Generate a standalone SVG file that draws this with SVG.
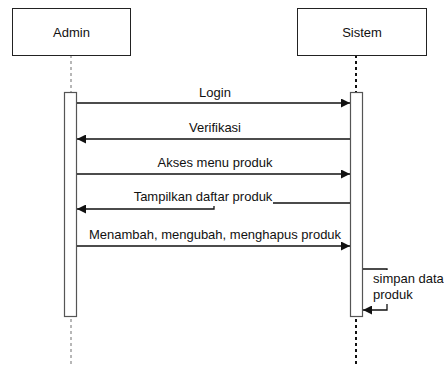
<svg xmlns="http://www.w3.org/2000/svg" width="444" height="365" viewBox="0 0 444 365">
  <style>
    text { font-family: "Liberation Sans", Arial, sans-serif; font-size: 13px; fill: #111; }
    .box { fill: #fff; stroke: #222; stroke-width: 1; }
    .act { fill: #fff; stroke: #555; stroke-width: 1.2; }
    .msg { fill: none; stroke: #111; stroke-width: 1.3; }
    .life-a { stroke: #888; stroke-width: 1.2; stroke-dasharray: 3 3; }
    .life-s { stroke: #111; stroke-width: 2; stroke-dasharray: 3 3; }
    .bg { fill: #fff; }
  </style>
  <defs>
    <marker id="arrow" viewBox="0 0 10 10" refX="10" refY="5" markerWidth="9" markerHeight="9" markerUnits="userSpaceOnUse" orient="auto">
      <path d="M0,0 L10,5 L0,10 z" fill="#111"/>
    </marker>
  </defs>

  <!-- lifelines -->
  <g id="lifelines">
    <line class="life-a" x1="71" y1="55" x2="71" y2="365"/>
    <line class="life-s" x1="356" y1="55" x2="356" y2="365"/>
  </g>

  <g id="admin">
    <rect class="box" x="12.5" y="8.5" width="118" height="47"/>
    <text x="71.5" y="37" text-anchor="middle">Admin</text>
    <rect class="act" x="64.5" y="92.5" width="12" height="224"/>
  </g>

  <g id="sistem">
    <rect class="box" x="297.5" y="8.5" width="129" height="47"/>
    <text x="362" y="37" text-anchor="middle">Sistem</text>
    <rect class="act" x="350.5" y="92.5" width="12" height="224"/>
  </g>

  <!-- messages -->
  <g id="connectors">
    <line class="msg" x1="77" y1="103" x2="350" y2="103" marker-end="url(#arrow)"/>
    <line class="msg" x1="350" y1="139" x2="77" y2="139" marker-end="url(#arrow)"/>
    <line class="msg" x1="77" y1="174" x2="350" y2="174" marker-end="url(#arrow)"/>
    <path class="msg" d="M350,203 H214 V209 H77" marker-end="url(#arrow)"/>
    <line class="msg" x1="77" y1="246" x2="350" y2="246" marker-end="url(#arrow)"/>
    <path class="msg" d="M363,269 H387 V310 H363" marker-end="url(#arrow)"/>
  </g>

  <g id="labels">
    <text x="215" y="97" text-anchor="middle">Login</text>
    <text x="215" y="132" text-anchor="middle">Verifikasi</text>
    <text x="215" y="167" text-anchor="middle">Akses menu produk</text>
    <rect class="bg" x="133" y="190" width="140" height="16"/>
    <text x="203" y="201" text-anchor="middle">Tampilkan daftar produk</text>
    <text x="215" y="239" text-anchor="middle">Menambah, mengubah, menghapus produk</text>
    <rect class="bg" x="372" y="270" width="70" height="34"/>
    <text x="373" y="283">simpan data</text>
    <text x="373" y="299">produk</text>
  </g>
</svg>
